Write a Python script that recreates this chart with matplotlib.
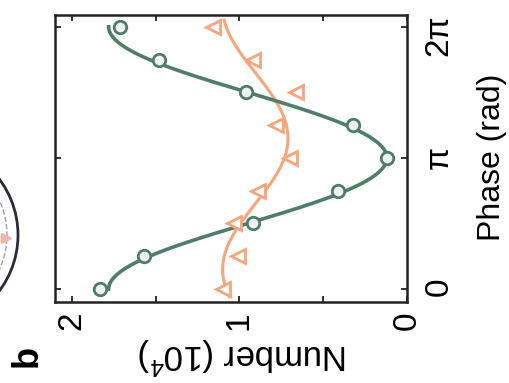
import numpy as np
import matplotlib
matplotlib.use("Agg")
import matplotlib.pyplot as plt
from matplotlib.patches import Circle

plt.rcParams['font.family'] = ['Liberation Sans', 'DejaVu Sans']
plt.rcParams['mathtext.default'] = 'regular'

# Measured counts vs. phase (phase in units of pi, counts in 10^4)
phase_steps = [0, 0.25, 0.5, 0.75, 1.0, 1.25, 1.5, 1.75, 2.0]
counts_a = [1.83, 1.57, 0.92, 0.41, 0.12, 0.32, 0.96, 1.48, 1.71]
counts_b = [1.10, 1.01, 1.03, 0.89, 0.70, 0.78, 0.66, 0.92, 1.16]

# Sinusoidal fits: offset, amplitude, phase of maximum (units of pi), fit range (units of pi)
fit_a = [0.95, 0.83, 0.0]
fit_a_range = [0.0, 2.0]
fit_b = [0.905, 0.195, 0.15]
fit_b_range = [-0.06, 2.05]

num_ticks = [0, 1, 2]
num_labels = ['0', '1', '2']
phase_ticks = [0, np.pi, 2 * np.pi]
phase_labels = ['0', 'π', '2π']

green = '#4f7d69'
orange = '#f7a57a'

fig = plt.figure(figsize=(5.10, 3.83), dpi=100)

# panel is shown turned a quarter turn: number runs right-to-left, phase bottom-to-top
ax = fig.add_axes([55 / 510, 81 / 383, 352 / 510, 287 / 383])

phase = np.array(phase_steps) * np.pi


def fit_curve(p, rng):
    t = np.linspace(rng[0] * np.pi, rng[1] * np.pi, 300)
    return p[0] + p[1] * np.cos(t - p[2] * np.pi), t


ya, ta = fit_curve(fit_a, fit_a_range)
yb, tb = fit_curve(fit_b, fit_b_range)

ax.plot(yb, tb, color=orange, lw=2.2, zorder=2)
ax.plot(ya, ta, color=green, lw=2.6, zorder=3)
ax.plot(counts_b, phase, ls='none', marker='<', ms=10, mfc='white',
        mec=orange, mew=2.0, zorder=4)
ax.plot(counts_a, phase, ls='none', marker='o', ms=9, mfc='#eef3ef',
        mec=green, mew=2.0, zorder=5)

ax.set_xlim(2.1, 0)
ax.set_ylim(-0.099 * np.pi, 2.09 * np.pi)

ax.set_xticks(num_ticks)
ax.set_xticklabels(num_labels)
ax.set_xticks([0.5, 1.5], minor=True)
ax.set_yticks(phase_ticks)
ax.set_yticklabels(phase_labels)

for s in ax.spines.values():
    s.set_linewidth(1.8)
    s.set_color('#222222')

ax.tick_params(axis='both', which='both', direction='in', length=4, width=1.3,
               top=True, bottom=True, left=True, right=True, color='#222222')
ax.tick_params(axis='x', labelsize=24, labelrotation=90, pad=7)
ax.tick_params(axis='y', labelsize=24, labelrotation=90, pad=12,
               labelleft=False, labelright=True)

fig.text(492 / 510, 1 - 157 / 383, 'Phase (rad)', rotation=90, fontsize=23,
         ha='center', va='center')
fig.text(243 / 510, 1 - 356 / 383, 'Number (10$^4$)', rotation=180, fontsize=25,
         ha='center', va='center')
fig.text(27 / 510, 1 - 356 / 383, 'b', rotation=90, fontsize=26,
         fontweight='bold', ha='center', va='center')

# edge of the neighbouring panel's sketch
deco = fig.add_axes([0, 0, 1, 1], zorder=-1)
deco.set_xlim(0, 510)
deco.set_ylim(383, 0)
deco.set_aspect('equal')
deco.axis('off')
deco.add_patch(Circle((-75, 235), 93, fill=False, ec='#2a2a3a', lw=2.0))
deco.add_patch(Circle((-75, 235), 82, fill=False, ec='#9aa3a8', lw=1.0, ls='--'))
deco.plot([6], [238], marker='>', ms=7, color='#f2b4b0', ls='none')

fig.savefig('out.png', dpi=100)
